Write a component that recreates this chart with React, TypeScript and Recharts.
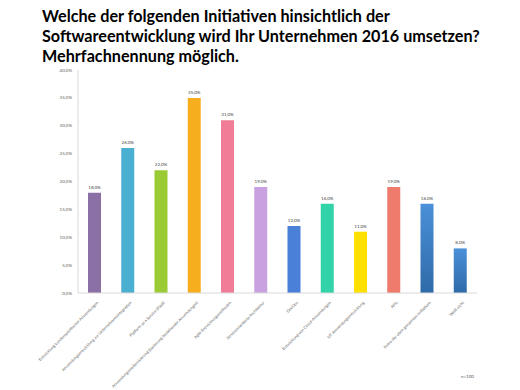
import React from "react";
import { BarChart, Bar, XAxis, YAxis, Cell, LabelList } from "recharts";

const categories = [
  "Entwicklung kundenspezifischer Anwendungen",
  "Anwendungsentwicklung zur Unternehmensintegration",
  "Platform as a Service (PaaS)",
  "Anwendungsmodernisierung (Sanierung bestehender Anwendungen)",
  "Agile Entwicklungsmethoden",
  "Serviceorientierte Architektur",
  "DevOps",
  "Entwicklung von Cloud-Anwendungen",
  "IoT-Anwendungsentwicklung",
  "APIs",
  "Keine der oben genannten Initiativen",
  "Weiß nicht",
];
const values = [18, 26, 22, 35, 31, 19, 12, 16, 11, 19, 16, 8];
const colors = [
  "#8B70A6",
  "#4AAFD0",
  "#9ACB34",
  "#F6AE1E",
  "#F17C98",
  "#C9A1E0",
  "#4A80D8",
  "#33D3A9",
  "#FFE000",
  "#EE7B6B",
  "url(#blueGrad)",
  "url(#blueGrad)",
];
const yTicks = [0, 5, 10, 15, 20, 25, 30, 35, 40];

const data = categories.map((c, i) => ({ name: c, value: values[i] }));
const pct = (v: number) => v.toFixed(1).replace(".", ",") + "%";

const AngledTick = (props: any) => {
  const { x, y, payload } = props;
  return (
    <g transform={`translate(${x + 4},${y + 2})`}>
      <text
        transform="rotate(-45)"
        textAnchor="end"
        fontSize={4}
        fill="#666"
        fontFamily="Lato, sans-serif"
      >
        {payload.value}
      </text>
    </g>
  );
};

export default function App() {
  return (
    <div style={{ position: "absolute", left: 0, top: 0, width: 520, height: 390, background: "#fff" }}>
      <div
        style={{
          position: "absolute",
          left: 42,
          top: 6,
          fontFamily: "Lato, 'Open Sans', sans-serif",
          fontWeight: 700,
          fontSize: 16.2,
          lineHeight: "20px",
          color: "#000",
          whiteSpace: "nowrap",
        }}
      >
        Welche der folgenden Initiativen hinsichtlich der
        <br />
        Softwareentwicklung wird Ihr Unternehmen 2016 umsetzen?
        <br />
        Mehrfachnennung möglich.
      </div>
      <div style={{ position: "absolute", left: 0, top: 0 }}>
        <BarChart
          width={520}
          height={390}
          data={data}
          margin={{ top: 70, right: 43, bottom: 0, left: 0 }}
        >
          <defs>
            <linearGradient id="blueGrad" x1="0" y1="0" x2="0" y2="1">
              <stop offset="0%" stopColor="#4A90D8" />
              <stop offset="100%" stopColor="#2F6AA8" />
            </linearGradient>
          </defs>
          <XAxis
            dataKey="name"
            interval={0}
            height={97}
            tickLine={false}
            axisLine={{ stroke: "#d9d9d9" }}
            tick={<AngledTick />}
          />
          <YAxis
            domain={[0, 40]}
            ticks={yTicks}
            width={78}
            tickLine={false}
            tickSize={4}
            axisLine={{ stroke: "#d9d9d9" }}
            tickFormatter={pct}
            tick={{ fontSize: 4.5, fill: "#666", fontFamily: "Lato, sans-serif" }}
          />
          <Bar dataKey="value" barSize={13} isAnimationActive={false}>
            {data.map((d, i) => (
              <Cell key={i} fill={colors[i]} />
            ))}
            <LabelList
              dataKey="value"
              position="top"
              formatter={(v: any) => pct(Number(v))}
              style={{ fontSize: 4.5, fill: "#444", fontFamily: "Lato, sans-serif" }}
              offset={4}
            />
          </Bar>
        </BarChart>
      </div>
      <div
        style={{
          position: "absolute",
          left: 461,
          top: 374,
          fontSize: 4.5,
          color: "#555",
          fontFamily: "Lato, sans-serif",
        }}
      >
        n=100
      </div>
    </div>
  );
}
